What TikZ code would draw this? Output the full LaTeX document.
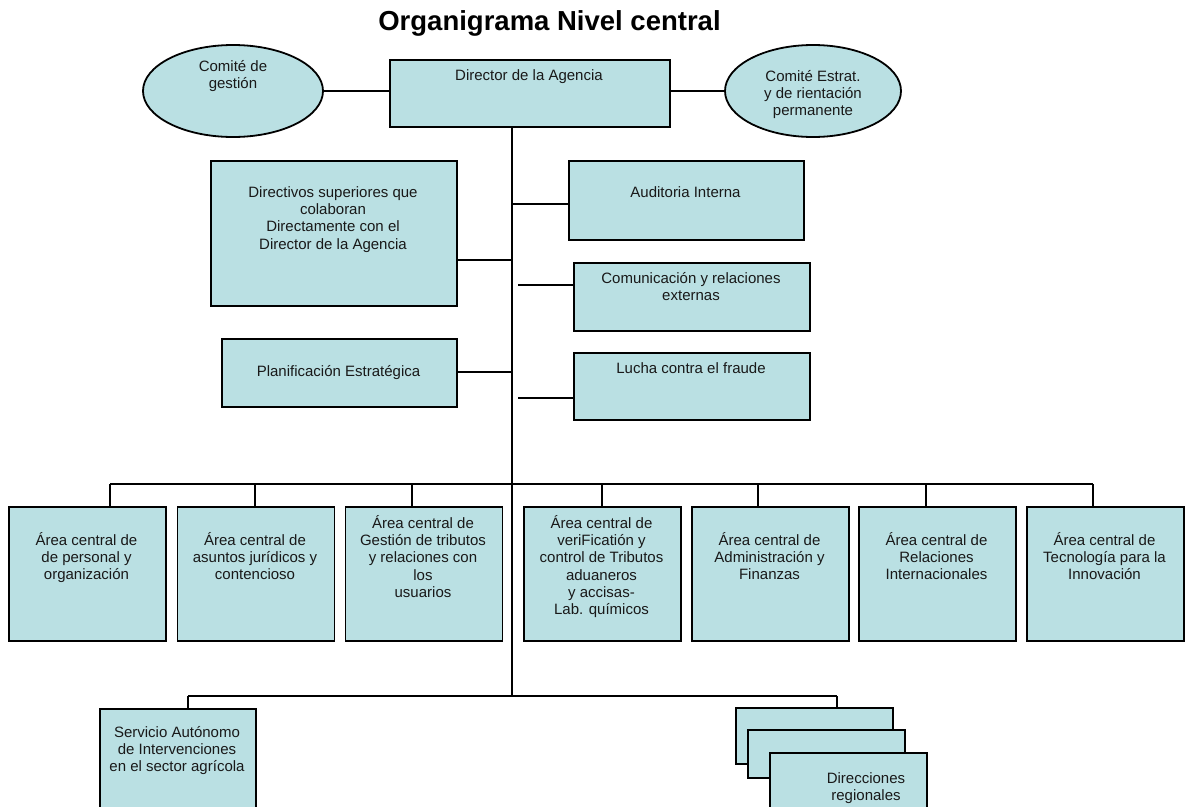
\documentclass[tikz,border=0pt]{standalone}
\usepackage{fontspec}
\setmainfont{Liberation Sans}
\usetikzlibrary{shapes.geometric}
\definecolor{boxfill}{RGB}{186,224,227}
\begin{document}
\begin{tikzpicture}[x=1pt,y=-1pt,
  box/.style={draw=black, line width=1.8pt, fill=boxfill, rectangle, inner sep=0pt, anchor=north west},
  oval/.style={draw=black, line width=1.8pt, fill=boxfill, ellipse, inner sep=0pt},
  txt/.style={align=center, inner sep=0pt, anchor=north, font=\fontsize{15}{17.3}\selectfont, text=black!90},
  link/.style={draw=black, line width=1.6pt},
]
\clip (0,0) rectangle (1185,806);
\fill[white] (0,0) rectangle (1185,806);

% title
\node[font=\bfseries\fontsize{27.5}{30}\selectfont, anchor=base, inner sep=0pt] (title) at (549.5,30) {Organigrama Nivel central};

% top level
\node[box, minimum width=280pt, minimum height=67pt] (dir) at (389,59) {};
\node[txt] (dir-t) at (529,67.9) {\strut Director de la Agencia};
\node[oval, minimum width=180pt, minimum height=92pt] (gest) at (233,91) {};
\node[txt] (gest-t) at (233,58.9) {\strut Comité de\\gestión};
\node[oval, minimum width=176pt, minimum height=92pt] (estr) at (813,91) {};
\node[txt] (estr-t) at (813,68.9) {\strut Comité Estrat.\\y de rientación\\permanente};

% staff units
\node[box, minimum width=246pt, minimum height=145pt] (dirv) at (210,160) {};
\node[txt] (dirv-t) at (333,184.9) {\strut Directivos superiores que\\colaboran\\Directamente con el\\Director de la Agencia};
\node[box, minimum width=235pt, minimum height=79pt] (aud) at (568,160) {};
\node[txt] (aud-t) at (685.5,184.9) {\strut Auditoria Interna};
\node[box, minimum width=236pt, minimum height=68pt] (com) at (573,262) {};
\node[txt] (com-t) at (691,270.9) {\strut Comunicación y relaciones\\externas};
\node[box, minimum width=235pt, minimum height=68pt] (plan) at (221,338) {};
\node[txt] (plan-t) at (338.5,363.9) {\strut Planificación Estratégica};
\node[box, minimum width=236pt, minimum height=67pt] (lucha) at (573,352) {};
\node[txt] (lucha-t) at (691,360.9) {\strut Lucha contra el fraude};

% central areas
\node[box, minimum width=157pt, minimum height=134pt] (a1) at (8,506) {};
\node[txt] (a1-t) at (86.5,531.9) {\strut Área central de\\de personal y\\organización};
\node[box, minimum width=157pt, minimum height=134pt] (a2) at (176.5,506) {};
\node[txt] (a2-t) at (255,531.9) {\strut Área central de\\asuntos jurídicos y\\contencioso};
\node[box, minimum width=157pt, minimum height=134pt] (a3) at (344.5,506) {};
\node[txt] (a3-t) at (423,514.9) {\strut Área central de\\Gestión de tributos\\y relaciones con\\los\\usuarios};
\node[box, minimum width=157pt, minimum height=134pt] (a4) at (523,506) {};
\node[txt] (a4-t) at (601.5,514.9) {\strut Área central de\\veriFicatión y\\control de Tributos\\aduaneros\\y accisas-\\Lab. químicos};
\node[box, minimum width=157pt, minimum height=134pt] (a5) at (691,506) {};
\node[txt] (a5-t) at (769.5,531.9) {\strut Área central de\\Administración y\\Finanzas};
\node[box, minimum width=157pt, minimum height=134pt] (a6) at (858,506) {};
\node[txt] (a6-t) at (936.5,531.9) {\strut Área central de\\Relaciones\\Internacionales};
\node[box, minimum width=157pt, minimum height=134pt] (a7) at (1026,506) {};
\node[txt] (a7-t) at (1104.5,531.9) {\strut Área central de\\Tecnología para la\\Innovación};

% lowest level
\node[box, minimum width=156pt, minimum height=110pt] (serv) at (99,708) {};
\node[txt] (serv-t) at (177,724.9) {\strut Servicio Autónomo\\de Intervenciones\\en el sector agrícola};
\node[box, minimum width=157pt, minimum height=56pt] (reg1) at (735,707) {};
\node[box, minimum width=157pt, minimum height=48pt] (reg2) at (747,729) {};
\node[box, minimum width=157pt, minimum height=70pt] (reg3) at (769,752) {};
\node[txt] (reg-t) at (866,770.9) {\strut Direcciones\\regionales};

% connectors
\coordinate (trunkTop) at (512,126);
\coordinate (busA) at (512,484);
\coordinate (busB) at (512,696);
\draw[link] (trunkTop) -- (busB);
\draw[link] (gest.east) -- (gest.east -| dir.west);
\draw[link] (dir.east |- estr.west) -- (estr.west);

\coordinate (audJ) at (512,204);
\draw[link] (audJ) -- (audJ -| aud.west);
\coordinate (dirvJ) at (512,260);
\draw[link] (dirvJ) -- (dirvJ -| dirv.east);
\coordinate (comJ) at (518,285);
\draw[link] (comJ) -- (comJ -| com.west);
\coordinate (planJ) at (512,372);
\draw[link] (planJ) -- (planJ -| plan.east);
\coordinate (luchaJ) at (518,398);
\draw[link] (luchaJ) -- (luchaJ -| lucha.west);

\coordinate (d1) at (110,484);
\coordinate (d2) at (255,484);
\coordinate (d3) at (412,484);
\coordinate (d4) at (602,484);
\coordinate (d5) at (758,484);
\coordinate (d6) at (926,484);
\coordinate (d7) at (1093,484);
\draw[link] (d1) -- (d7);
\draw[link] (d1) -- (d1 |- a1.north);
\draw[link] (d2) -- (d2 |- a2.north);
\draw[link] (d3) -- (d3 |- a3.north);
\draw[link] (d4) -- (d4 |- a4.north);
\draw[link] (d5) -- (d5 |- a5.north);
\draw[link] (d6) -- (d6 |- a6.north);
\draw[link] (d7) -- (d7 |- a7.north);

\coordinate (e1) at (188,696);
\coordinate (e2) at (837,696);
\draw[link] (e1) -- (e2);
\draw[link] (e1) -- (e1 |- serv.north);
\draw[link] (e2) -- (e2 |- reg1.north);
\end{tikzpicture}
\end{document}
